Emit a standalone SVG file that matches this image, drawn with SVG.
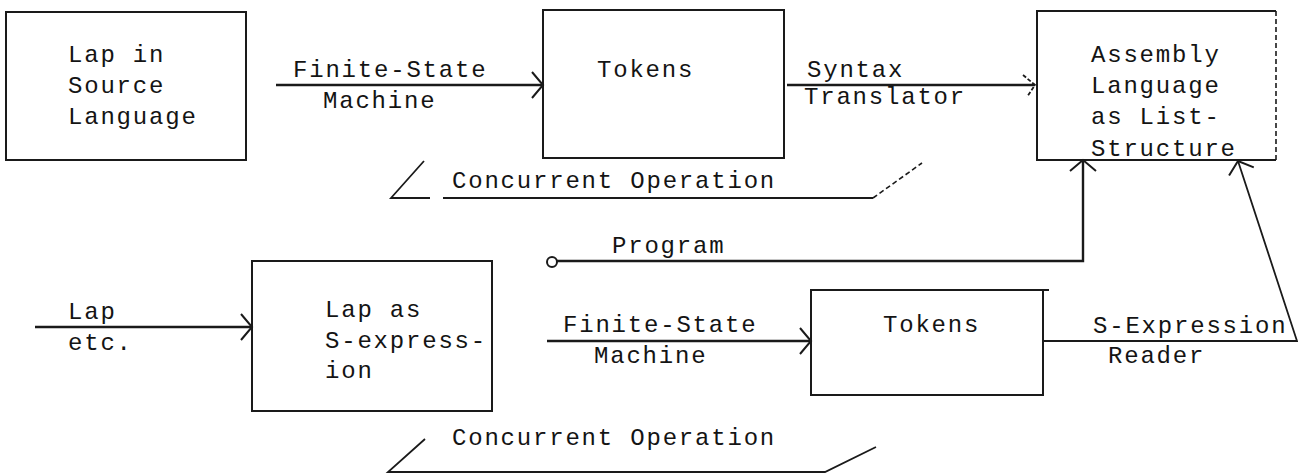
<svg xmlns="http://www.w3.org/2000/svg" width="1298" height="475" viewBox="0 0 1298 475">
  <style>
    .t { font-family: "Liberation Mono", "Courier New", monospace; font-size: 24px; letter-spacing: 1.8px; fill: #141414; }
    .box { fill: none; stroke: #1a1a1a; stroke-width: 2; }
    .ln { fill: none; stroke: #1a1a1a; stroke-width: 2.4; }
    .thin { fill: none; stroke: #1a1a1a; stroke-width: 1.8; }
    .dash { fill: none; stroke: #1a1a1a; stroke-width: 1.6; stroke-dasharray: 5 3; }
  </style>
  <defs>
    <marker id="chev" markerUnits="userSpaceOnUse" markerWidth="16" markerHeight="30" refX="13" refY="14" orient="auto" overflow="visible">
      <path d="M2,1 L13,14 L2,27" fill="none" stroke="#1a1a1a" stroke-width="2"/>
    </marker>
    <marker id="chevDash" markerUnits="userSpaceOnUse" markerWidth="16" markerHeight="30" refX="13" refY="11" orient="auto" overflow="visible">
      <path d="M1,1 L13,11 L5,23" fill="none" stroke="#1a1a1a" stroke-width="1.8" stroke-dasharray="4 2"/>
    </marker>
  </defs>
  <rect width="1298" height="475" fill="#ffffff"/>

  <g id="node-lap-source">
    <rect class="box" x="6" y="12" width="240" height="148"/>
    <text class="t" x="68" y="62">Lap in</text>
    <text class="t" x="68" y="93">Source</text>
    <text class="t" x="68" y="124">Language</text>
  </g>

  <g id="node-tokens-top">
    <rect class="box" x="543" y="10" width="241" height="148"/>
    <text class="t" x="597" y="77">Tokens</text>
  </g>

  <g id="node-assembly">
    <path class="box" d="M1276,11 H1037 V160 H1276"/>
    <path class="dash" d="M1276,11 V160"/>
    <text class="t" x="1091" y="62">Assembly</text>
    <text class="t" x="1091" y="93">Language</text>
    <text class="t" x="1091" y="124">as List-</text>
    <text class="t" x="1091" y="156">Structure</text>
  </g>

  <g id="node-lap-sexpr">
    <rect class="box" x="252" y="261" width="240" height="150"/>
    <text class="t" x="325" y="317">Lap as</text>
    <text class="t" x="325" y="348">S-express-</text>
    <text class="t" x="325" y="378">ion</text>
  </g>

  <g id="node-tokens-bottom">
    <path class="box" d="M1049,290 H811 V395 H1043 V290"/>
    <text class="t" x="883" y="332">Tokens</text>
  </g>

  <g id="connectors">
    <path class="ln" d="M276,85 H543" marker-end="url(#chev)"/>
    <path class="ln" d="M787,85 H1035" marker-end="url(#chevDash)"/>
    <circle cx="552" cy="262" r="5" fill="none" stroke="#1a1a1a" stroke-width="2"/>
    <path class="ln" d="M557,261 H1083 V160" marker-end="url(#chev)"/>
    <path class="ln" d="M35,327 H252" marker-end="url(#chev)"/>
    <path class="ln" d="M547,341 H811" marker-end="url(#chev)"/>
    <path class="thin" d="M1043,341 H1297 L1238,161" marker-end="url(#chev)"/>
  </g>

  <g id="connector-labels">
    <text class="t" x="293" y="77">Finite-State</text>
    <text class="t" x="323" y="108">Machine</text>
    <text class="t" x="807" y="77">Syntax</text>
    <text class="t" x="804" y="104">Translator</text>
    <text class="t" x="612" y="253">Program</text>
    <text class="t" x="68" y="319">Lap</text>
    <text class="t" x="68" y="350">etc.</text>
    <text class="t" x="563" y="332">Finite-State</text>
    <text class="t" x="594" y="363">Machine</text>
    <text class="t" x="1093" y="333">S-Expression</text>
    <text class="t" x="1108" y="363">Reader</text>
  </g>

  <g id="concurrent-top">
    <path class="thin" d="M424,161 L391,198 L430,198 M443,198 L873,198"/>
    <path class="dash" d="M873,198 L922,163"/>
    <text class="t" x="452" y="188">Concurrent Operation</text>
  </g>

  <g id="concurrent-bottom">
    <path class="thin" d="M425,439 L388,472 L825,472 L876,447"/>
    <text class="t" x="452" y="445">Concurrent Operation</text>
  </g>
</svg>
